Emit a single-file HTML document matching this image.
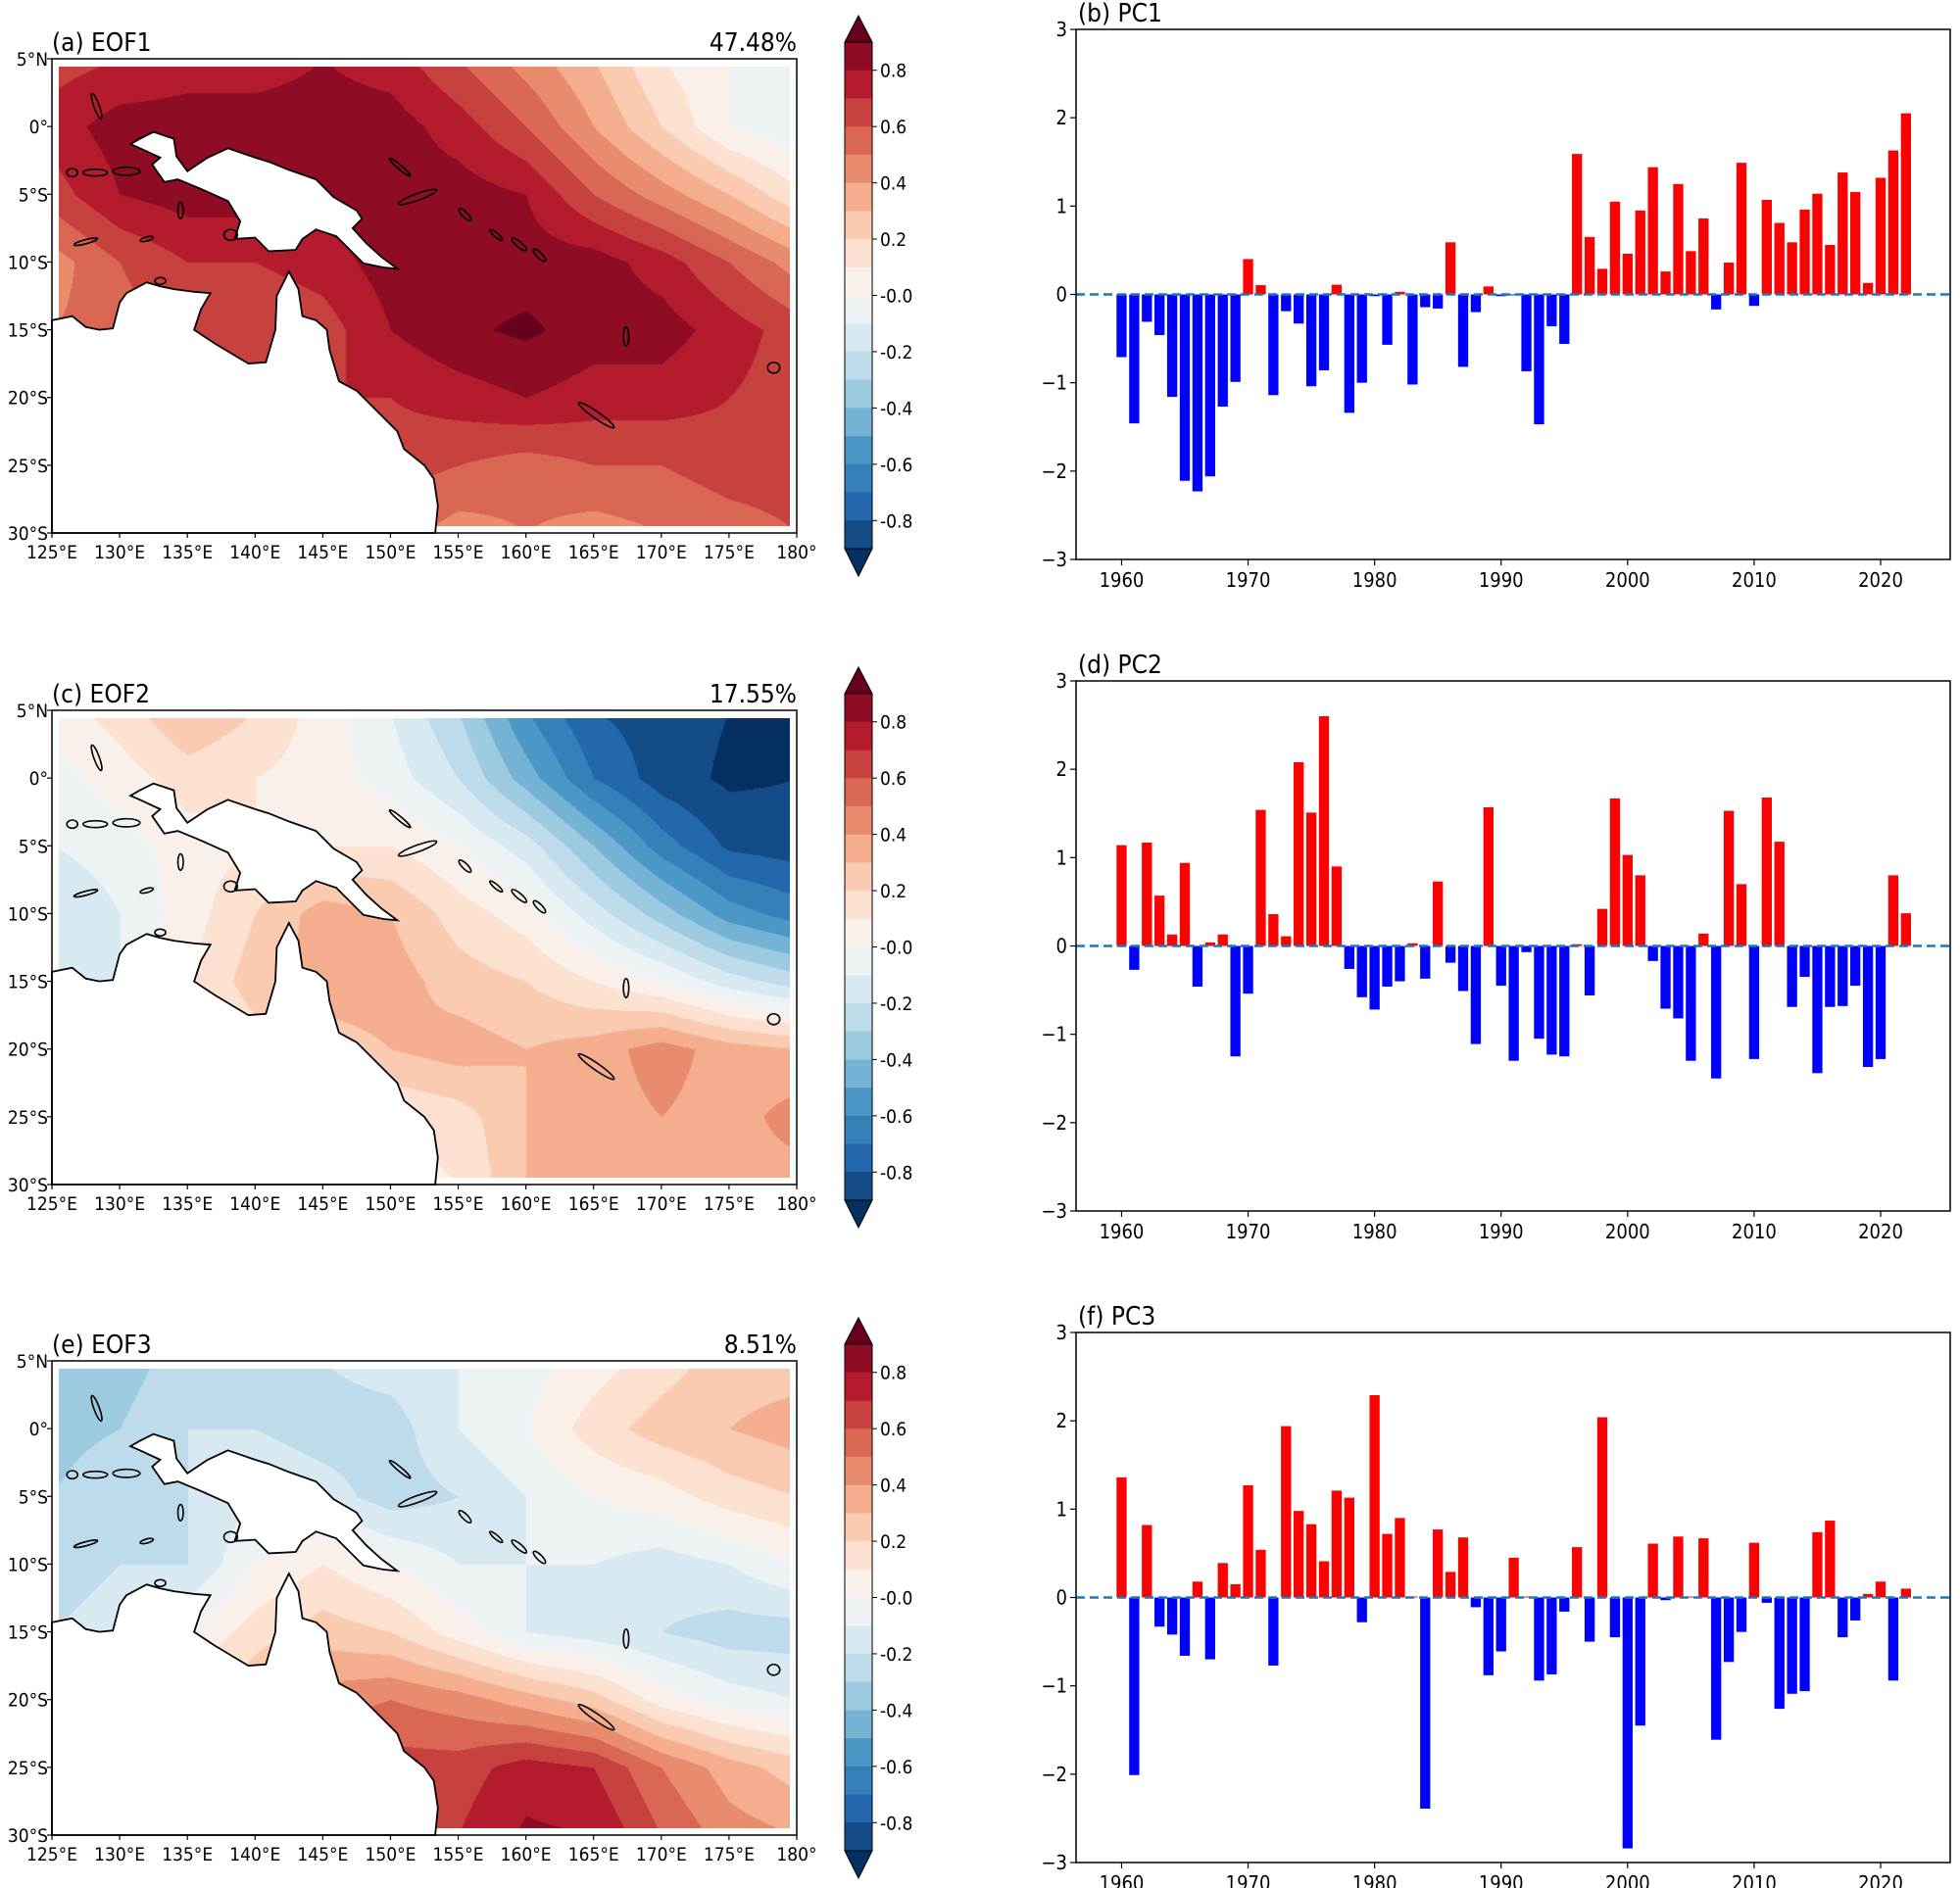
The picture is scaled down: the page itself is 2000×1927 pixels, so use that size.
<!DOCTYPE html>
<html><head><meta charset="utf-8"><style>
body{margin:0;background:#fff;width:2000px;height:1927px;overflow:hidden;font-family:"DejaVu Sans Condensed","DejaVu Sans","Liberation Sans",sans-serif}
#root{position:relative;width:2000px;height:1927px}
canvas{position:absolute}
svg{position:absolute;left:0;top:0}
</style></head><body><div id="root">
<svg id="svg" width="2000" height="1927"></svg>
</div>
<script>
// ===== PC data =====
const years = []; for (let y = 1960; y <= 2022; y++) years.push(y);
const pc1 = [-0.71,-1.46,-0.31,-0.46,-1.16,-2.11,-2.23,-2.06,-1.27,-0.99,0.40,0.105,-1.14,-0.19,-0.33,-1.04,-0.86,0.11,-1.34,-1.0,-0.02,-0.57,0.03,-1.02,-0.145,-0.16,0.59,-0.82,-0.2,0.09,-0.02,-0.01,-0.87,-1.47,-0.36,-0.56,1.59,0.65,0.29,1.05,0.46,0.95,1.44,0.26,1.25,0.49,0.86,-0.17,0.36,1.49,-0.13,1.07,0.81,0.59,0.96,1.14,0.56,1.38,1.16,0.13,1.32,1.63,2.05];
const pc2 = [1.14,-0.27,1.17,0.57,0.13,0.94,-0.46,0.04,0.13,-1.25,-0.54,1.54,0.36,0.11,2.08,1.51,2.60,0.90,-0.26,-0.58,-0.72,-0.46,-0.40,0.03,-0.37,0.73,-0.19,-0.51,-1.11,1.57,-0.45,-1.30,-0.07,-1.05,-1.23,-1.25,0.02,-0.56,0.42,1.67,1.03,0.80,-0.17,-0.71,-0.82,-1.30,0.14,-1.50,1.53,0.70,-1.28,1.68,1.18,-0.69,-0.35,-1.44,-0.69,-0.68,-0.45,-1.37,-1.28,0.80,0.37];
const pc3 = [1.36,-2.01,0.82,-0.33,-0.42,-0.66,0.18,-0.70,0.39,0.15,1.27,0.54,-0.77,1.94,0.98,0.83,0.41,1.21,1.13,-0.28,2.29,0.72,0.90,0.01,-2.39,0.77,0.29,0.68,-0.11,-0.88,-0.61,0.45,0.01,-0.94,-0.87,-0.16,0.57,-0.50,2.04,-0.45,-2.84,-1.45,0.61,-0.03,0.69,0.01,0.67,-1.61,-0.73,-0.39,0.62,-0.06,-1.26,-1.09,-1.06,0.74,0.87,-0.45,-0.26,0.04,0.18,-0.94,0.10];
const pcTitles = ["(b) PC1","(d) PC2","(f) PC3"];
const yTicks = [3,2,1,0,-1,-2,-3];
const xTicks = [1960,1970,1980,1990,2000,2010,2020];
// ===== EOF grids (lon 125..180 step 5, lat 5..-30 step 5) =====
const eofLons = [125,130,135,140,145,150,155,160,165,170,175,180];
const eofLats = [5,0,-5,-10,-15,-20,-25,-30];
const eof1 = [
[0.65,0.7,0.75,0.75,0.8,0.75,0.6,0.45,0.3,0.1,0.0,-0.02],
[0.75,0.85,0.85,0.85,0.85,0.85,0.75,0.6,0.4,0.2,0.0,-0.08],
[0.65,0.8,0.85,0.85,0.85,0.85,0.85,0.8,0.6,0.45,0.3,0.12],
[0.45,0.6,0.7,0.7,0.75,0.85,0.85,0.85,0.85,0.75,0.6,0.45],
[0.5,0.55,0.65,0.6,0.65,0.8,0.88,0.92,0.85,0.85,0.75,0.65],
[0.6,0.65,0.7,0.7,0.7,0.7,0.75,0.8,0.75,0.75,0.7,0.65],
[0.6,0.6,0.65,0.65,0.65,0.65,0.6,0.55,0.6,0.6,0.65,0.65],
[0.6,0.6,0.6,0.6,0.6,0.55,0.45,0.5,0.45,0.5,0.55,0.6]];
const eof2 = [
[0.05,0.15,0.3,0.2,0.05,-0.1,-0.3,-0.6,-0.8,-0.85,-0.9,-0.9],
[-0.05,0.05,0.15,0.1,0.05,-0.05,-0.2,-0.45,-0.7,-0.85,-0.92,-0.9],
[-0.1,-0.05,0.05,0.1,0.1,0.1,0.0,-0.15,-0.4,-0.65,-0.82,-0.85],
[-0.2,-0.1,0.05,0.2,0.35,0.3,0.15,0.05,-0.15,-0.35,-0.55,-0.65],
[-0.15,-0.1,0.1,0.25,0.35,0.35,0.25,0.2,0.1,0.0,-0.15,-0.25],
[0,0,0.05,0.15,0.25,0.3,0.35,0.3,0.35,0.45,0.35,0.3],
[0,0,0,0.1,0.2,0.1,0.15,0.3,0.35,0.4,0.35,0.45],
[0,0,0,0,0.1,0.05,0.1,0.3,0.35,0.3,0.35,0.35]];
const eof3 = [
[-0.4,-0.35,-0.25,-0.2,-0.2,-0.15,-0.1,-0.05,0.05,0.15,0.25,0.25],
[-0.35,-0.3,-0.2,-0.2,-0.25,-0.25,-0.1,0.0,0.15,0.25,0.3,0.35],
[-0.3,-0.2,-0.2,-0.1,-0.15,-0.25,-0.2,-0.1,0.0,0.05,0.15,0.2],
[-0.25,-0.2,-0.2,0.0,0.1,0.0,-0.1,-0.1,-0.1,-0.15,-0.1,0.0],
[-0.2,-0.15,0.0,0.15,0.25,0.2,0.05,-0.1,-0.15,-0.2,-0.25,-0.25],
[-0.1,0.0,0.15,0.3,0.45,0.5,0.45,0.35,0.25,0.05,-0.05,-0.1],
[0,0.1,0.3,0.45,0.6,0.65,0.65,0.75,0.7,0.5,0.35,0.25],
[0,0.1,0.3,0.45,0.6,0.65,0.7,0.82,0.8,0.6,0.45,0.4]];
const eofTitles = ["(a) EOF1","(c) EOF2","(e) EOF3"];
const eofPct = ["47.48%","17.55%","8.51%"];
const cbLabels = [0.8,0.6,0.4,0.2,-0.0,-0.2,-0.4,-0.6,-0.8];
const latLabels = ["5°N","0°","5°S","10°S","15°S","20°S","25°S","30°S"];
const lonLabels = ["125°E","130°E","135°E","140°E","145°E","150°E","155°E","160°E","165°E","170°E","175°E","180°"];

const NS="http://www.w3.org/2000/svg";
const svg=document.getElementById('svg');
const FONT='DejaVu Sans Condensed, DejaVu Sans, Liberation Sans, sans-serif';
function mk(tag,attrs,parent){const e=document.createElementNS(NS,tag);for(const k in attrs)e.setAttribute(k,attrs[k]);(parent||svg).appendChild(e);return e;}
function txt(s,x,y,size,anchor,parent){const t=mk('text',{x:x,y:y,'font-size':size,'text-anchor':anchor||'start',fill:'#000','font-family':FONT},parent);t.textContent=s;return t;}

// ===== colormap RdBu_r =====
const anchors=["#053061","#2166ac","#4393c3","#92c5de","#d1e5f0","#f7f7f7","#fddbc7","#f4a582","#d6604d","#b2182b","#67001f"].map(h=>[parseInt(h.slice(1,3),16),parseInt(h.slice(3,5),16),parseInt(h.slice(5,7),16)]);
function cmap(t){t=Math.max(0,Math.min(1,t));const p=t*10;const i=Math.min(9,Math.floor(p));const f=p-i;const a=anchors[i],b=anchors[i+1];return [0,1,2].map(k=>Math.round(a[k]+(b[k]-a[k])*f));}
const levels=[];for(let i=0;i<20;i++)levels.push(cmap(i/19));
function levelColor(v){let idx=Math.floor((v+0.9)/0.1)+1;idx=Math.max(0,Math.min(19,idx));return levels[idx];}

// ===== Maps =====
const mapTops=[60,725,1389];
const MX0=53,MW=760,MH=484;
function lx(lon){return MX0+(lon-125)/55*MW;}
function ly(lat,top){return top+(5-lat)/35*MH;}
const australia=[[125,-14.3],[126.5,-14],[127.5,-14.8],[128.5,-15],[129.5,-14.9],[130,-13],[130.5,-12.3],[132,-11.5],[133,-11.8],[134,-12],[135.5,-12.2],[136.7,-12.3],[136,-13.5],[135.5,-15],[137,-16],[139.5,-17.5],[140.8,-17.4],[141.5,-15],[141.6,-12.5],[142.5,-10.7],[143.2,-12],[143.5,-14],[144.5,-14.3],[145.3,-15],[145.5,-16.5],[146.2,-18.8],[147.5,-19.5],[149,-21],[150.5,-22.5],[151,-23.8],[152.5,-25],[153.2,-26],[153.5,-28],[153.3,-30],[125,-30]];
const newguinea=[[130.8,-1.3],[131.5,-0.9],[132.5,-0.4],[134,-0.9],[134.2,-2.2],[135,-3.3],[136.5,-2.3],[138,-1.6],[140,-2.3],[141,-2.6],[142.5,-3.2],[144.5,-3.9],[145.8,-5.2],[147.5,-6.2],[147.9,-6.8],[147.2,-7.5],[148.2,-8.6],[149.3,-9.6],[150.5,-10.5],[149.5,-10.4],[148,-10.1],[147,-9.1],[146,-8.1],[144.5,-7.6],[143.5,-8.3],[143,-9.1],[141,-9.2],[140,-8.2],[138.5,-8.3],[138.9,-7],[138,-5.5],[136,-4.6],[134.3,-3.9],[133.3,-4.1],[132.4,-2.8],[133,-2.3],[131.5,-1.6]];
const islands=[[128.3,1.5,0.2,1.0,-20],[128.2,-3.4,0.9,0.25,0],[130.5,-3.3,1.0,0.3,0],[126.5,-3.4,0.4,0.3,0],[134.5,-6.2,0.2,0.6,0],[138.2,-8,0.5,0.4,0],[165.2,-21.3,1.6,0.25,35],[167.4,-15.5,0.2,0.7,0],[152,-5.2,1.5,0.25,-20],[150.7,-3,1.0,0.15,40],[155.5,-6.5,0.2,0.6,-45],[157.8,-8,0.15,0.6,-50],[159.5,-8.7,0.2,0.7,-50],[161,-9.5,0.2,0.6,-45],[178.3,-17.8,0.45,0.4,0],[132,-8.3,0.5,0.15,-15],[127.5,-8.5,0.9,0.15,-15],[133,-11.4,0.4,0.25,0]];
for(let m=0;m<3;m++){
  const top=mapTops[m];const grid=[eof1,eof2,eof3][m];
  const g=mk('g',{});
  
  
  const c=document.createElement('canvas');
  
  
  const x0=Math.round(lx(125.5)),x1=Math.round(lx(179.5)),y0=Math.round(ly(4.4,top)),y1=Math.round(ly(-29.5,top));
  c.width=x1-x0;c.height=y1-y0;c.style.left=x0+'px';c.style.top=y0+'px';
  document.getElementById('root').insertBefore(c,svg);
  const ctx=c.getContext('2d');const img=ctx.createImageData(c.width,c.height);
  for(let py=0;py<c.height;py++){const lat=5-((py+y0-top)/MH*35);const fr=(5-lat)/5;const r0=Math.max(0,Math.min(6,Math.floor(fr)));const fy=Math.max(0,Math.min(1,fr-r0));
    for(let px=0;px<c.width;px++){const lon=125+((px+x0-MX0)/MW*55);const fc=(lon-125)/5;const c0=Math.max(0,Math.min(10,Math.floor(fc)));const fx=Math.max(0,Math.min(1,fc-c0));
      const v=(grid[r0][c0]*(1-fx)+grid[r0][c0+1]*fx)*(1-fy)+(grid[r0+1][c0]*(1-fx)+grid[r0+1][c0+1]*fx)*fy;
      const col=levelColor(v);const i=(py*c.width+px)*4;img.data[i]=col[0];img.data[i+1]=col[1];img.data[i+2]=col[2];img.data[i+3]=255;}}
  ctx.putImageData(img,0,0);
  for(const [poly,nm] of [[australia,'australia'],[newguinea,'new-guinea']]){
    const p=mk('polygon',{points:poly.map(q=>lx(q[0]).toFixed(1)+','+ly(q[1],top).toFixed(1)).join(' '),fill:'#fff',stroke:'#000','stroke-width':1.8},g);
    
    
  }
  for(const is of islands){
    const e=mk('ellipse',{cx:lx(is[0]),cy:ly(is[1],top),rx:is[2]*MW/55,ry:is[3]*MH/35,fill:'none',stroke:'#000','stroke-width':1.6,transform:`rotate(${is[4]} ${lx(is[0])} ${ly(is[1],top)})`},g);
    
    
  }
  const fr=mk('rect',{x:MX0,y:top,width:MW,height:MH,fill:'none',stroke:'#000','stroke-width':1.5},g);
  
  
  for(let i=0;i<8;i++){const y=ly(eofLats[i],top);mk('line',{x1:MX0-5,x2:MX0,y1:y,y2:y,stroke:'#000','stroke-width':1.2},g);
    const t=txt(latLabels[i],MX0-4,y+7,19,'end',g);}
  for(let i=0;i<12;i++){const x=lx(eofLons[i]);mk('line',{x1:x,x2:x,y1:top+MH,y2:top+MH+5,stroke:'#000','stroke-width':1.2},g);
    const t=txt(lonLabels[i],x,top+MH+26,19,'middle',g);}
  const tt=txt(eofTitles[m],MX0,top-8,26,'start',g);
  const tp=txt(eofPct[m],MX0+MW,top-8,26,'end',g);
  const cb=mk('g',{});
  const cx0=862,cw=28,ct=top-17,cbot=top+500,bh=(cbot-ct)/18;
  for(let i=0;i<18;i++){const col=levels[18-i];mk('rect',{x:cx0,y:ct+i*bh,width:cw,height:bh+0.6,fill:`rgb(${col})`},cb);}
  const up=levels[19],dn=levels[0];
  mk('polygon',{points:`${cx0},${ct} ${cx0+cw/2},${ct-27} ${cx0+cw},${ct}`,fill:`rgb(${up})`,stroke:'#000','stroke-width':1},cb);
  mk('polygon',{points:`${cx0},${cbot} ${cx0+cw/2},${cbot+28} ${cx0+cw},${cbot}`,fill:`rgb(${dn})`,stroke:'#000','stroke-width':1},cb);
  mk('rect',{x:cx0,y:ct,width:cw,height:cbot-ct,fill:'none',stroke:'#000','stroke-width':1},cb);
  for(const v of cbLabels){const y=ct+(0.9-v)/1.8*(cbot-ct);mk('line',{x1:cx0+cw,x2:cx0+cw+5,y1:y,y2:y,stroke:'#000','stroke-width':1},cb);
    const t=txt(v===0?'-0.0':v.toFixed(1),cx0+cw+8,y+7,19,'start',cb);}
}

// ===== PC bar charts =====
const pcTops=[30,695,1360];
const PX0=1098,PX1=1990,PH=541;
const yearMin=1956.4,yearMax=2025.5;
function px(yr){return PX0+(yr-yearMin)/(yearMax-yearMin)*(PX1-PX0);}
const ppu=PH/6;
for(let k=0;k<3;k++){
  const top=pcTops[k];const vals=[pc1,pc2,pc3][k];
  const py=v=>top+(3-v)*ppu;
  const g=mk('g',{});
  const bw=0.8*(PX1-PX0)/(yearMax-yearMin);
  for(let i=0;i<years.length;i++){const v=vals[i];const x=px(years[i])-bw/2;const y=Math.min(py(v),py(0));const h=Math.abs(py(v)-py(0));
    const r=mk('rect',{x:x.toFixed(2),y:y.toFixed(2),width:bw.toFixed(2),height:h.toFixed(2),fill:v>=0?'#ff0000':'#0000ff'},g);
    
    }
  const zl=mk('line',{x1:PX0,x2:PX1,y1:py(0),y2:py(0),stroke:'#1f77b4','stroke-width':2.5,'stroke-dasharray':'9,5'},g);
  
  const fr=mk('rect',{x:PX0,y:top,width:PX1-PX0,height:PH,fill:'none',stroke:'#000','stroke-width':1.5},g);
  
  for(const v of yTicks){const y=py(v);mk('line',{x1:PX0-6,x2:PX0,y1:y,y2:y,stroke:'#000','stroke-width':1.2},g);
    const t=txt(v<0?'\u2212'+(-v):String(v),PX0-9,y+7,20,'end',g);}
  for(const yr of xTicks){const x=px(yr);mk('line',{x1:x,x2:x,y1:top+PH,y2:top+PH+6,stroke:'#000','stroke-width':1.2},g);
    const t=txt(String(yr),x,top+PH+28,20,'middle',g);}
  const tt=txt(pcTitles[k],PX0+2,top-8,26,'start',g);
}
</script></body></html>
